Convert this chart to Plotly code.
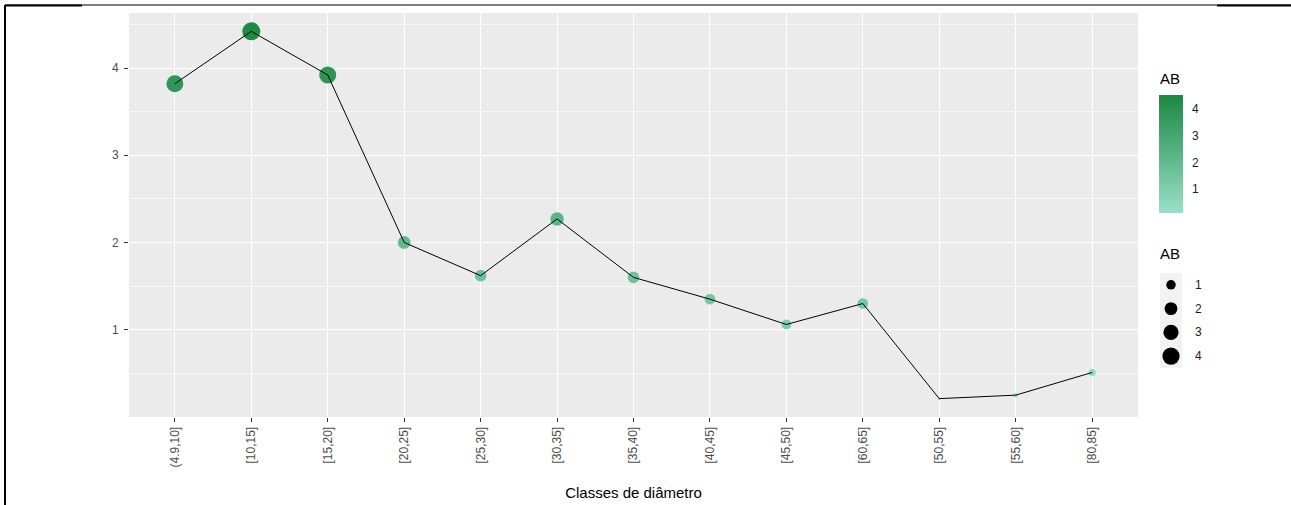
import plotly.graph_objects as go
import numpy as np

# ---- data ----
classes = ["(4.9,10]", "[10,15]", "[15,20]", "[20,25]", "[25,30]", "[30,35]", "[35,40]",
           "[40,45]", "[45,50]", "[60,65]", "[50,55]", "[55,60]", "[80,85]"]
ab = [3.82, 4.42, 3.92, 2.00, 1.62, 2.27, 1.60, 1.35, 1.06, 1.30, 0.21, 0.25, 0.51]
y_ticks = [1, 2, 3, 4]
legend_sizes = [1, 2, 3, 4]

W, H = 1291, 505
L, R, T, B = 129, 1138, 13, 417  # panel pixel box


def px(x):
    return x / W


def py(y):
    return 1 - y / H


vmin, vmax = min(ab), max(ab)
nbin = 20
ext = 0.5 / (nbin - 1) * (vmax - vmin)     # ggplot colourbar half-bin extension
cmin, cmax = vmin - ext, vmax + ext
f = ext / (cmax - cmin)


def diam(v):
    v = np.asarray(v, dtype=float)
    return 3.0 * (1 + 5 * np.sqrt(np.clip((v - vmin) / (vmax - vmin), 0, 1)))


low, high = "#96dec6", "#1f8a45"
cscale = [[0, low], [f, low], [1 - f, high], [1, high]]
axis_txt = "#4d4d4d"
FONT = "Liberation Sans, Arial, sans-serif"

bar_top, bar_len, bar_x0, bar_w = 95, 118, 1159, 24

fig = go.Figure()

fig.add_trace(go.Scatter(
    x=classes, y=ab, mode="markers",
    marker=dict(size=diam(ab), color=ab, colorscale=cscale, cmin=cmin, cmax=cmax,
                line=dict(width=0), opacity=1,
                colorbar=dict(
                    x=px(bar_x0), xanchor="left", xpad=0, xref="paper",
                    y=py(bar_top), yanchor="top", ypad=0, yref="paper",
                    lenmode="pixels", len=bar_len, thickness=bar_w,
                    outlinewidth=0,
                    tickvals=[1, 2, 3, 4], ticktext=["1", "2", "3", "4"],
                    ticks="outside", ticklen=7, tickcolor="rgba(0,0,0,0)", tickwidth=1,
                    tickfont=dict(size=12, color="#1a1a1a", family=FONT),
                )),
    hoverinfo="x+y", showlegend=False))

fig.add_trace(go.Scatter(
    x=classes, y=ab, mode="lines", line=dict(color="black", width=1),
    hoverinfo="skip", showlegend=False))

# size legend drawn on its own small axes
fig.add_trace(go.Scatter(
    x=[0.5] * len(legend_sizes), y=legend_sizes, mode="markers",
    marker=dict(size=diam(legend_sizes), color="#000000", opacity=1, line=dict(width=0)),
    xaxis="x2", yaxis="y2", hoverinfo="skip", showlegend=False))

key_top, key_h = 273, 23.75
annotations = []
for i, s in enumerate(legend_sizes):
    annotations.append(dict(x=px(1193), y=py(key_top + key_h * (i + 0.5)), xref="paper", yref="paper",
                            text=str(s), showarrow=False, xanchor="left", yanchor="middle",
                            font=dict(size=12, color="#1a1a1a", family=FONT)))
annotations.append(dict(x=px(1158), y=py(253), xref="paper", yref="paper", text="AB",
                        showarrow=False, xanchor="left", yanchor="middle",
                        font=dict(size=15, color="black", family=FONT)))
annotations.append(dict(x=px(1158), y=py(78), xref="paper", yref="paper", text="AB",
                        showarrow=False, xanchor="left", yanchor="middle",
                        font=dict(size=15, color="black", family=FONT)))

shapes = [
    dict(type="rect", xref="paper", yref="paper", x0=px(1160), x1=px(1182), y0=py(368), y1=py(273),
         fillcolor="#f2f2f2", line=dict(width=0), layer="below"),
    dict(type="line", xref="paper", yref="paper", x0=px(5), x1=px(5), y0=py(5), y1=py(505),
         line=dict(color="black", width=2)),
    dict(type="line", xref="paper", yref="paper", x0=px(5), x1=px(1291), y0=py(5), y1=py(5),
         line=dict(color="black", width=1)),
    dict(type="line", xref="paper", yref="paper", x0=px(5), x1=px(82), y0=py(5.5), y1=py(5.5),
         line=dict(color="black", width=2)),
    dict(type="line", xref="paper", yref="paper", x0=px(1217), x1=px(1291), y0=py(5.5), y1=py(5.5),
         line=dict(color="black", width=2)),
    dict(type="rect", xref="x domain", yref="y domain", x0=0, x1=1, y0=0, y1=1,
         fillcolor="#ebebeb", line=dict(width=0), layer="below"),
]
# white tick marks inside the colour bar (ggplot style)
for t in [1, 2, 3, 4]:
    ypix = bar_top + (cmax - t) / (cmax - cmin) * bar_len
    for xa, xb in [(bar_x0, bar_x0 + 5), (bar_x0 + bar_w - 5, bar_x0 + bar_w)]:
        shapes.append(dict(type="line", xref="paper", yref="paper", x0=px(xa), x1=px(xb),
                           y0=py(ypix), y1=py(ypix), line=dict(color="white", width=1), layer="above"))

fig.update_layout(
    width=W, height=H,
    margin=dict(l=0, r=0, t=0, b=0, autoexpand=False),
    paper_bgcolor="white", plot_bgcolor="white",
    font=dict(family=FONT, color=axis_txt),
    xaxis=dict(
        domain=[px(L), px(R)], anchor="y",
        type="category", range=[-0.6, len(classes) - 0.4],
        showgrid=True, gridcolor="white", gridwidth=1.1, zeroline=False,
        ticks="outside", ticklen=4, tickcolor="#333333", tickwidth=1,
        tickangle=-90, tickfont=dict(size=12, color=axis_txt, family=FONT),
        title=dict(text="Classes de diâmetro", font=dict(size=15, color="black", family=FONT), standoff=20),
        showline=False, fixedrange=True, automargin=False,
    ),
    yaxis=dict(
        domain=[py(B), py(T)], anchor="x",
        range=[vmin - 0.05 * (vmax - vmin), vmax + 0.05 * (vmax - vmin)],
        tickvals=y_ticks, ticktext=[str(t) for t in y_ticks],
        showgrid=True, gridcolor="white", gridwidth=1.1, zeroline=False,
        ticks="outside", ticklen=4, tickcolor="#333333", tickwidth=1,
        tickfont=dict(size=12, color=axis_txt, family=FONT), ticklabelstandoff=3,
        minor=dict(tickvals=[0.5, 1.5, 2.5, 3.5, 4.5], showgrid=True, gridcolor="#f7f7f7",
                   gridwidth=0.6, ticks=""),
        showline=False, fixedrange=True, automargin=False,
    ),
    xaxis2=dict(domain=[px(1160), px(1182)], range=[0, 1], anchor="y2",
                visible=False, fixedrange=True),
    yaxis2=dict(domain=[py(368), py(273)], range=[4.5, 0.5], anchor="x2",
                visible=False, fixedrange=True),
    annotations=annotations,
    shapes=shapes,
    showlegend=False,
)

fig.write_html("out.html", config={"displayModeBar": False},
               post_script="document.body.style.margin='0';")
